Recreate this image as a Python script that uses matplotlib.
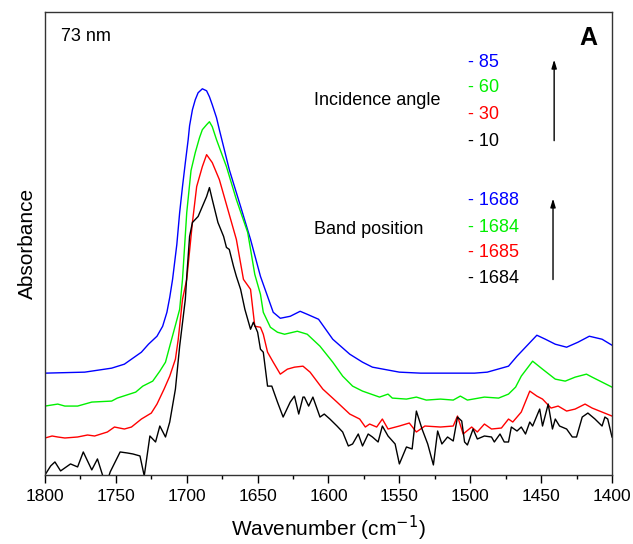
import matplotlib
matplotlib.use("Agg")
import matplotlib.pyplot as plt
from matplotlib.ticker import MultipleLocator

plt.rcParams['font.family'] = ['Liberation Sans', 'DejaVu Sans']

# IR spectra (amide I region), 73 nm film, four incidence angles
wn_85 = [1800, 1772, 1753, 1744, 1737, 1732, 1727, 1721, 1717, 1714, 1712, 1710, 1707, 1705,
         1703, 1701, 1699, 1698, 1696, 1694, 1692, 1689, 1686, 1684, 1682, 1679, 1677, 1670,
         1662, 1655, 1648, 1643, 1639, 1634, 1627, 1620, 1615, 1607, 1597, 1585, 1576, 1569,
         1550, 1535, 1507, 1497, 1488, 1473, 1467, 1461, 1453, 1447, 1440, 1432, 1424, 1416,
         1407, 1400]
abs_85 = [0.102, 0.103, 0.107, 0.111, 0.118, 0.123, 0.131, 0.139, 0.149, 0.163, 0.178, 0.196, 0.231, 0.263,
          0.289, 0.313, 0.336, 0.350, 0.366, 0.376, 0.383, 0.387, 0.385, 0.379, 0.371, 0.358, 0.346, 0.306,
          0.269, 0.236, 0.199, 0.179, 0.163, 0.157, 0.159, 0.164, 0.161, 0.156, 0.136, 0.121, 0.113, 0.108,
          0.103, 0.102, 0.102, 0.102, 0.103, 0.109, 0.119, 0.128, 0.140, 0.136, 0.131, 0.128, 0.133, 0.139,
          0.136, 0.130]

wn_60 = [1800, 1791, 1786, 1777, 1767, 1753, 1749, 1736, 1731, 1724, 1719, 1715, 1712, 1708,
         1705, 1703, 1700, 1697, 1694, 1691, 1689, 1686, 1684, 1682, 1679, 1672, 1665, 1657,
         1652, 1648, 1646, 1641, 1636, 1631, 1622, 1615, 1606, 1597, 1590, 1583, 1576, 1564,
         1558, 1555, 1545, 1538, 1531, 1521, 1512, 1507, 1502, 1490, 1480, 1473, 1468, 1464,
         1456, 1449, 1440, 1433, 1426, 1418, 1414, 1407, 1400]
abs_60 = [0.069, 0.071, 0.069, 0.069, 0.073, 0.074, 0.077, 0.083, 0.089, 0.094, 0.104, 0.113, 0.129, 0.150,
          0.166, 0.196, 0.263, 0.305, 0.323, 0.338, 0.346, 0.351, 0.354, 0.349, 0.336, 0.309, 0.276, 0.243,
          0.201, 0.181, 0.163, 0.148, 0.143, 0.141, 0.144, 0.141, 0.129, 0.113, 0.099, 0.089, 0.084, 0.078,
          0.081, 0.077, 0.076, 0.078, 0.075, 0.076, 0.075, 0.079, 0.075, 0.078, 0.077, 0.081, 0.088, 0.099,
          0.114, 0.106, 0.096, 0.094, 0.098, 0.101, 0.098, 0.093, 0.088]

wn_30 = [1800, 1795, 1791, 1786, 1777, 1770, 1765, 1756, 1751, 1744, 1739, 1732, 1725, 1721,
         1716, 1712, 1708, 1706, 1703, 1700, 1696, 1693, 1689, 1686, 1682, 1677, 1671, 1665,
         1660, 1655, 1652, 1648, 1646, 1643, 1639, 1634, 1629, 1624, 1618, 1613, 1604, 1594,
         1585, 1578, 1574, 1571, 1566, 1562, 1558, 1550, 1543, 1538, 1532, 1521, 1512, 1509,
         1505, 1499, 1495, 1490, 1485, 1478, 1473, 1470, 1464, 1458, 1453, 1449, 1443, 1438,
         1432, 1426, 1419, 1414, 1407, 1400]
abs_30 = [0.037, 0.039, 0.038, 0.037, 0.038, 0.040, 0.039, 0.043, 0.048, 0.046, 0.048, 0.056, 0.062, 0.071,
          0.086, 0.099, 0.116, 0.136, 0.176, 0.196, 0.253, 0.289, 0.309, 0.321, 0.313, 0.296, 0.266, 0.236,
          0.196, 0.186, 0.149, 0.148, 0.141, 0.123, 0.113, 0.101, 0.106, 0.108, 0.109, 0.103, 0.086, 0.073,
          0.061, 0.056, 0.048, 0.051, 0.048, 0.056, 0.046, 0.049, 0.052, 0.043, 0.049, 0.048, 0.049, 0.059,
          0.041, 0.048, 0.043, 0.051, 0.046, 0.047, 0.056, 0.053, 0.063, 0.084, 0.079, 0.076, 0.067, 0.069,
          0.064, 0.066, 0.071, 0.067, 0.063, 0.059]

wn_10 = [1800, 1796, 1793, 1789, 1782, 1777, 1773, 1767, 1763, 1759, 1757, 1754, 1747, 1742,
         1738, 1733, 1730, 1726, 1722, 1719, 1715, 1712, 1708, 1705, 1701, 1700, 1698, 1696,
         1692, 1689, 1686, 1684, 1682, 1678, 1674, 1672, 1670, 1667, 1665, 1662, 1659, 1655,
         1653, 1650, 1648, 1646, 1643, 1640, 1636, 1632, 1627, 1624, 1621, 1618, 1617, 1614,
         1611, 1606, 1603, 1599, 1594, 1590, 1586, 1583, 1579, 1576, 1572, 1569, 1565, 1562,
         1558, 1553, 1550, 1545, 1541, 1538, 1534, 1530, 1526, 1523, 1520, 1516, 1512, 1509,
         1506, 1504, 1502, 1498, 1495, 1490, 1485, 1483, 1479, 1476, 1473, 1471, 1467, 1464,
         1461, 1458, 1456, 1451, 1449, 1445, 1442, 1440, 1437, 1432, 1428, 1425, 1421, 1417,
         1412, 1407, 1405, 1403, 1400]
abs_10 = [0.000, 0.009, 0.013, 0.004, 0.011, 0.008, 0.023, 0.005, 0.016, -0.002, -0.010, 0.003, 0.023, 0.022,
          0.021, 0.019, -0.001, 0.039, 0.033, 0.049, 0.038, 0.053, 0.086, 0.129, 0.176, 0.199, 0.239, 0.253,
          0.259, 0.269, 0.279, 0.288, 0.276, 0.253, 0.239, 0.228, 0.226, 0.209, 0.199, 0.186, 0.166, 0.146,
          0.153, 0.143, 0.126, 0.123, 0.089, 0.089, 0.073, 0.058, 0.073, 0.079, 0.061, 0.078, 0.078, 0.069,
          0.078, 0.058, 0.061, 0.056, 0.049, 0.043, 0.029, 0.031, 0.041, 0.029, 0.041, 0.038, 0.033, 0.049,
          0.039, 0.031, 0.011, 0.028, 0.026, 0.064, 0.046, 0.031, 0.010, 0.044, 0.031, 0.038, 0.034, 0.058,
          0.054, 0.033, 0.030, 0.046, 0.036, 0.039, 0.038, 0.033, 0.041, 0.033, 0.033, 0.048, 0.044, 0.048,
          0.041, 0.053, 0.049, 0.066, 0.049, 0.071, 0.046, 0.056, 0.049, 0.046, 0.038, 0.038, 0.058, 0.062,
          0.056, 0.049, 0.058, 0.056, 0.038]

angles = ['85', '60', '30', '10']
band_pos = ['1688', '1684', '1685', '1684']
colors = ['#0000ff', '#00f000', '#ff0000', '#000000']

fig = plt.figure(figsize=(6.33, 5.44), dpi=100)
ax = fig.add_axes([0.0711, 0.127, 0.8957, 0.851])

for wn, ab, c in zip([wn_85, wn_60, wn_30, wn_10], [abs_85, abs_60, abs_30, abs_10], colors):
    ax.plot(wn, ab, color=c, linewidth=1.0)

ax.set_xlim(1800, 1400)
ax.set_ylim(0, 0.464)
ax.xaxis.set_major_locator(MultipleLocator(50))
ax.xaxis.set_minor_locator(MultipleLocator(25))
ax.tick_params(axis='x', which='major', direction='out', length=6, width=1, labelsize=12.5, pad=4)
ax.tick_params(axis='x', which='minor', direction='out', length=3, width=1)
ax.tick_params(axis='x', top=False)
ax.set_yticks([])
for sp in ax.spines.values():
    sp.set_linewidth(1.0)
    sp.set_color('#333333')

ax.set_xlabel('Wavenumber (cm$^{-1}$)', fontsize=15, labelpad=7)
ax.set_ylabel('Absorbance', fontsize=15, labelpad=6)

tr = ax.transAxes
ax.text(0.028, 0.948, '73 nm', transform=tr, fontsize=13, va='center', ha='left')
ax.text(0.958, 0.944, 'A', transform=tr, fontsize=18, fontweight='bold', va='center', ha='center')

ax.text(0.474, 0.808, 'Incidence angle', transform=tr, fontsize=13, va='center', ha='left')
for lab, c, fy in zip(angles, colors, [0.890, 0.836, 0.778, 0.720]):
    ax.text(0.746, fy, '- ' + lab, transform=tr, fontsize=13, color=c, va='center', ha='left')

ax.text(0.474, 0.530, 'Band position', transform=tr, fontsize=13, va='center', ha='left')
for lab, c, fy in zip(band_pos, colors, [0.593, 0.534, 0.481, 0.425]):
    ax.text(0.746, fy, '- ' + lab, transform=tr, fontsize=13, color=c, va='center', ha='left')

# arrows showing increasing incidence angle
arrow = dict(arrowstyle='-|>,head_length=0.5,head_width=0.15', color='black', lw=1.0)
ax.annotate('', xy=(0.898, 0.903), xytext=(0.898, 0.716), xycoords=tr, arrowprops=arrow)
ax.annotate('', xy=(0.896, 0.603), xytext=(0.896, 0.416), xycoords=tr, arrowprops=arrow)

fig.savefig('out.png', dpi=100)
